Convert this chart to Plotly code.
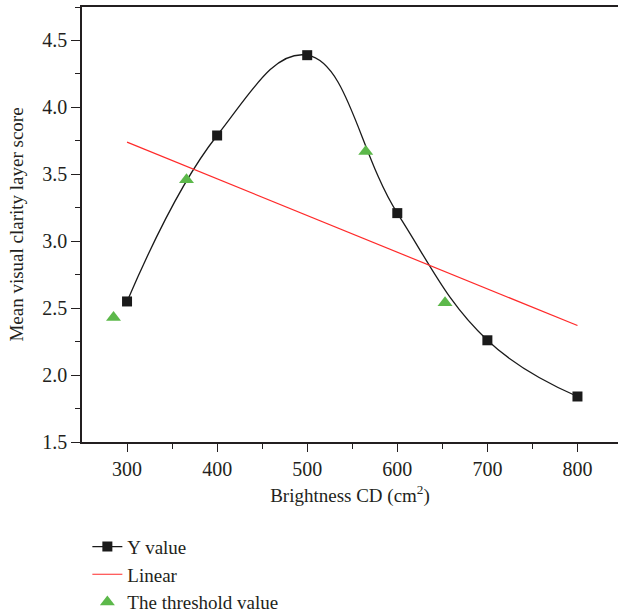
import plotly.graph_objects as go

brightness = [300, 400, 500, 600, 700, 800]
y_value = [2.55, 3.79, 4.39, 3.21, 2.26, 1.84]

linear_x = [300, 800]
linear_y = [3.74, 2.37]

threshold_x = [285, 366, 565, 653]
threshold_y = [2.43, 3.46, 3.67, 2.54]

FONT = "Liberation Serif"
FS = 20

fig = go.Figure()
fig.add_trace(go.Scatter(
    x=brightness, y=y_value, name="Y value", mode="lines+markers",
    line=dict(color="#1a1a1a", width=1.3, shape="spline", smoothing=1.2),
    marker=dict(symbol="square", size=10, color="#1a1a1a"),
))
fig.add_trace(go.Scatter(
    x=linear_x, y=linear_y, name="Linear", mode="lines",
    line=dict(color="#ff2a2a", width=1.2),
))
fig.add_trace(go.Scatter(
    x=threshold_x, y=threshold_y, name="The threshold value", mode="markers",
    marker=dict(symbol="triangle-up", size=13, color="#5cb84a"),
))

fig.update_layout(
    width=618, height=614,
    margin=dict(l=82, r=0, t=7, b=172, autoexpand=False),
    paper_bgcolor="white", plot_bgcolor="white",
    font=dict(family=FONT, size=FS, color="#231f20"),
    showlegend=True,
    legend=dict(x=0.01, y=-0.197, xanchor="left", yanchor="top",
                font=dict(family=FONT, size=FS - 1, color="#231f20"),
                tracegroupgap=0, itemwidth=30, bgcolor="rgba(0,0,0,0)"),
    xaxis=dict(
        range=[250, 845], showgrid=False, zeroline=False, automargin=False,
        showline=True, linecolor="#231f20", linewidth=1.5, mirror=True,
        ticks="outside", ticklen=8, tickwidth=1.2, tickcolor="#231f20",
        tickvals=[300, 400, 500, 600, 700, 800],
        minor=dict(tickvals=[350, 450, 550, 650, 750, 850], ticks="outside", ticklen=5, tickcolor="#231f20"),
        title=dict(text="Brightness CD (cm<sup>2</sup>)", standoff=10, font=dict(size=FS - 1)),
        tickfont=dict(size=FS),
    ),
    yaxis=dict(
        range=[1.5, 4.75], showgrid=False, zeroline=False, automargin=False,
        showline=True, linecolor="#231f20", linewidth=1.5,
        ticks="outside", ticklen=9, tickwidth=1.2, tickcolor="#231f20",
        tickvals=[1.5, 2.0, 2.5, 3.0, 3.5, 4.0, 4.5], tickformat=".1f",
        minor=dict(tickvals=[1.75, 2.25, 2.75, 3.25, 3.75, 4.25, 4.75], ticks="outside", ticklen=5, tickcolor="#231f20"),
        title=dict(text="Mean visual clarity layer score", standoff=14, font=dict(size=FS - 1)),
        tickfont=dict(size=FS),
    ),
)

fig.write_html("out.html")
